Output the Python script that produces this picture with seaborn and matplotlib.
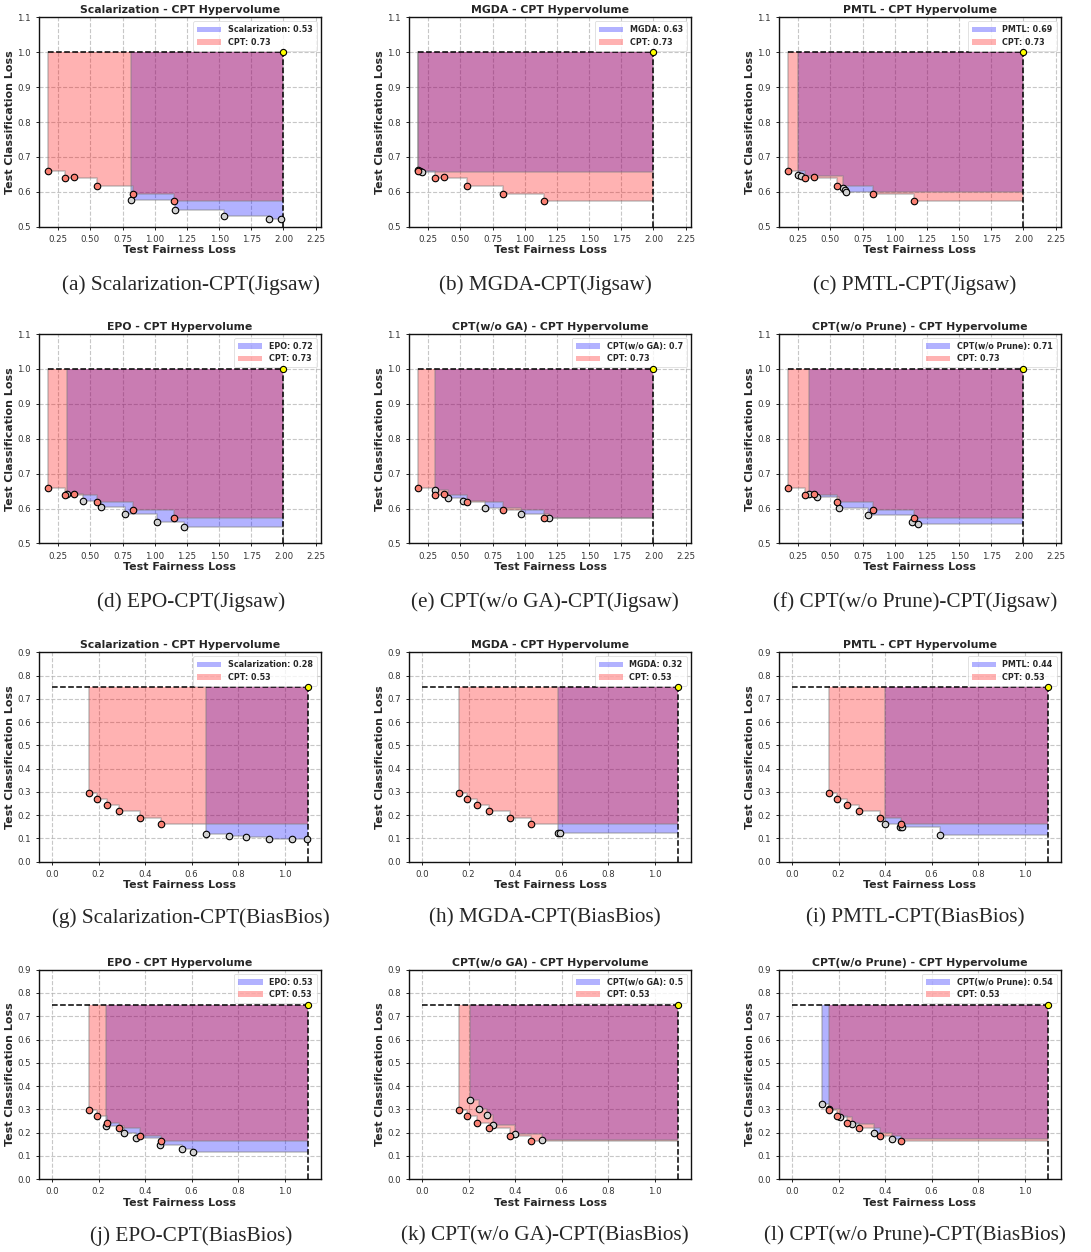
import numpy as np
import matplotlib
matplotlib.use("Agg")
import matplotlib.pyplot as plt
import seaborn as sns
import pandas as pd

# ---------------- data ----------------
jig_cpt_x = [0.172, 0.302, 0.372, 0.549, 0.830, 1.150]
jig_cpt_y = [0.659, 0.640, 0.641, 0.618, 0.595, 0.573]

jig_scal_x = [0.819, 1.160, 1.537, 1.888, 1.979]
jig_scal_y = [0.577, 0.549, 0.531, 0.523, 0.523]
jig_mgda_x = [0.172, 0.185, 0.198]
jig_mgda_y = [0.663, 0.660, 0.657]
jig_pmtl_x = [0.250, 0.271, 0.596, 0.617, 0.624]
jig_pmtl_y = [0.648, 0.646, 0.610, 0.605, 0.598]
jig_epo_x = [0.315, 0.440, 0.580, 0.770, 1.020, 1.228]
jig_epo_y = [0.641, 0.622, 0.605, 0.584, 0.562, 0.548]
jig_woga_x = [0.305, 0.404, 0.523, 0.692, 0.970, 1.191]
jig_woga_y = [0.652, 0.631, 0.622, 0.602, 0.583, 0.572]
jig_woprune_x = [0.331, 0.394, 0.568, 0.789, 1.130, 1.182]
jig_woprune_y = [0.641, 0.634, 0.601, 0.581, 0.560, 0.556]

bb_cpt_x = [0.159, 0.191, 0.238, 0.288, 0.380, 0.467]
bb_cpt_y = [0.295, 0.271, 0.242, 0.218, 0.186, 0.163]

bb_scal_x = [0.660, 0.759, 0.832, 0.933, 1.030, 1.096]
bb_scal_y = [0.119, 0.109, 0.105, 0.099, 0.096, 0.096]
bb_mgda_x = [0.585, 0.595]
bb_mgda_y = [0.124, 0.122]
bb_pmtl_x = [0.398, 0.463, 0.471, 0.638]
bb_pmtl_y = [0.160, 0.148, 0.151, 0.115]
bb_epo_x = [0.233, 0.309, 0.362, 0.464, 0.560, 0.607]
bb_epo_y = [0.228, 0.198, 0.178, 0.148, 0.130, 0.118]
bb_woga_x = [0.206, 0.246, 0.279, 0.304, 0.400, 0.514]
bb_woga_y = [0.342, 0.301, 0.275, 0.231, 0.192, 0.166]
bb_woprune_x = [0.128, 0.159, 0.205, 0.259, 0.351, 0.430]
bb_woprune_y = [0.324, 0.300, 0.265, 0.235, 0.196, 0.173]

methods = ["Scalarization", "MGDA", "PMTL", "EPO", "CPT(w/o GA)", "CPT(w/o Prune)"]
jig_hv = [0.53, 0.63, 0.69, 0.72, 0.7, 0.71]
bb_hv = [0.28, 0.32, 0.44, 0.53, 0.5, 0.54]
cpt_hv_jig = 0.73
cpt_hv_bb = 0.53
letters = ["a", "b", "c", "d", "e", "f", "g", "h", "i", "j", "k", "l"]

jig_method_data = [(jig_scal_x, jig_scal_y), (jig_mgda_x, jig_mgda_y), (jig_pmtl_x, jig_pmtl_y),
                   (jig_epo_x, jig_epo_y), (jig_woga_x, jig_woga_y), (jig_woprune_x, jig_woprune_y)]
bb_method_data = [(bb_scal_x, bb_scal_y), (bb_mgda_x, bb_mgda_y), (bb_pmtl_x, bb_pmtl_y),
                  (bb_epo_x, bb_epo_y), (bb_woga_x, bb_woga_y), (bb_woprune_x, bb_woprune_y)]

# ---------------- style ----------------
sns.set_style("ticks")
plt.rcParams['font.family'] = ['DejaVu Sans']

W, H = 1091, 1252
fig = plt.figure(figsize=(W / 100, H / 100), dpi=100)

col_left = [39.3, 409.3, 779.3]
ax_w = 281.4
row_top = [17.3, 334.0, 652.3, 969.7]
ax_h = 209.4
cap_y = [285, 602, 918, 1236]
cap_x = [191, 545, 915]


def staircase(xs, ys, ref_x):
    order = np.argsort(xs)
    sx, sy = [], []
    cur = np.inf
    for i in order:
        if ys[i] < cur:
            sx.append(xs[i]); sy.append(ys[i]); cur = ys[i]
    sx.append(ref_x); sy.append(sy[-1])
    return np.array(sx), np.array(sy)


def draw_panel(ax, mx, my, cx, cy, mname, mhv, chv, ref, hstart, xlim, ylim, xticks, yticks):
    rx, ry = ref
    # fills
    sx, sy = staircase(mx, my, rx)
    ax.fill_between(sx, sy, ry, step='post', color='blue', alpha=0.3, linewidth=0,
                    label=f"{mname}: {mhv}")
    ax.step(sx, sy, where='post', color='gray', alpha=0.45, lw=1.2)
    ax.plot([sx[0], sx[0]], [sy[0], ry], color='gray', alpha=0.45, lw=1.2)
    sx2, sy2 = staircase(cx, cy, rx)
    ax.fill_between(sx2, sy2, ry, step='post', color='red', alpha=0.3, linewidth=0,
                    label=f"CPT: {chv}")
    ax.step(sx2, sy2, where='post', color='gray', alpha=0.45, lw=1.2)
    ax.plot([sx2[0], sx2[0]], [sy2[0], ry], color='gray', alpha=0.45, lw=1.2)
    # points
    dm = pd.DataFrame({"x": mx, "y": my})
    dc = pd.DataFrame({"x": cx, "y": cy})
    sns.scatterplot(data=dm, x="x", y="y", ax=ax, color='lightgray', edgecolor='black',
                    s=22, linewidth=0.8, zorder=5, legend=False)
    sns.scatterplot(data=dc, x="x", y="y", ax=ax, color='salmon', edgecolor='black',
                    s=22, linewidth=0.8, zorder=6, legend=False)
    # reference
    ax.plot([hstart, rx], [ry, ry], color='black', ls='--', lw=1.1, zorder=4)
    ax.plot([rx, rx], [ylim[0], ry], color='black', ls='--', lw=1.1, zorder=4)
    ax.scatter([rx], [ry], color='yellow', edgecolor='black', s=20, linewidth=0.8, zorder=7)

    ax.set_xlim(*xlim)
    ax.set_ylim(*ylim)
    ax.set_xticks(xticks)
    ax.set_yticks(yticks)
    ax.grid(True, linestyle='--', color='#b0b0b0', linewidth=0.8, alpha=0.7)
    ax.set_axisbelow(True)
    ax.tick_params(labelsize=6.2, length=2.5, width=0.7, colors='#222222', labelcolor='#333333')
    for s in ax.spines.values():
        s.set_color('#111111'); s.set_linewidth(1.0)
    ax.set_xlabel("Test Fairness Loss", fontsize=7.9, fontweight='bold', labelpad=1)
    ax.set_ylabel("Test Classification Loss", fontsize=7.9, fontweight='bold', labelpad=1.5)
    ax.set_title(f"{mname} - CPT Hypervolume", fontsize=7.8, fontweight='bold', pad=3)
    leg = ax.legend(loc='upper right', prop={'size': 5.8, 'weight': 'bold'}, frameon=True,
                    handlelength=3.0, borderpad=0.5, labelspacing=0.4)
    leg.get_frame().set_linewidth(0.5)


for k in range(12):
    r, c = divmod(k, 3)
    ax = fig.add_axes([col_left[c] / W, 1 - (row_top[r] + ax_h) / H, ax_w / W, ax_h / H])
    mi = (r % 2) * 3 + c
    if r < 2:
        mx, my = jig_method_data[mi]
        draw_panel(ax, mx, my, jig_cpt_x, jig_cpt_y, methods[mi], jig_hv[mi], cpt_hv_jig,
                   (2.0, 1.0), 0.172, (0.103, 2.289), (0.5, 1.1),
                   [0.25, 0.5, 0.75, 1.0, 1.25, 1.5, 1.75, 2.0, 2.25],
                   [0.5, 0.6, 0.7, 0.8, 0.9, 1.0, 1.1])
        ax.set_xticklabels(["0.25", "0.50", "0.75", "1.00", "1.25", "1.50", "1.75", "2.00", "2.25"])
        ds = "Jigsaw"
    else:
        mx, my = bb_method_data[mi]
        draw_panel(ax, mx, my, bb_cpt_x, bb_cpt_y, methods[mi], bb_hv[mi], cpt_hv_bb,
                   (1.1, 0.75), 0.0, (-0.055, 1.155), (0.0, 0.9),
                   [0.0, 0.2, 0.4, 0.6, 0.8, 1.0],
                   [0.0, 0.1, 0.2, 0.3, 0.4, 0.5, 0.6, 0.7, 0.8, 0.9])
        ds = "BiasBios"
    fig.text(cap_x[c] / W, 1 - cap_y[r] / H, f"({letters[k]}) {methods[mi]}-CPT({ds})",
             ha='center', va='center', fontsize=15.3, family='Liberation Serif')

fig.savefig("out.png", dpi=100)
